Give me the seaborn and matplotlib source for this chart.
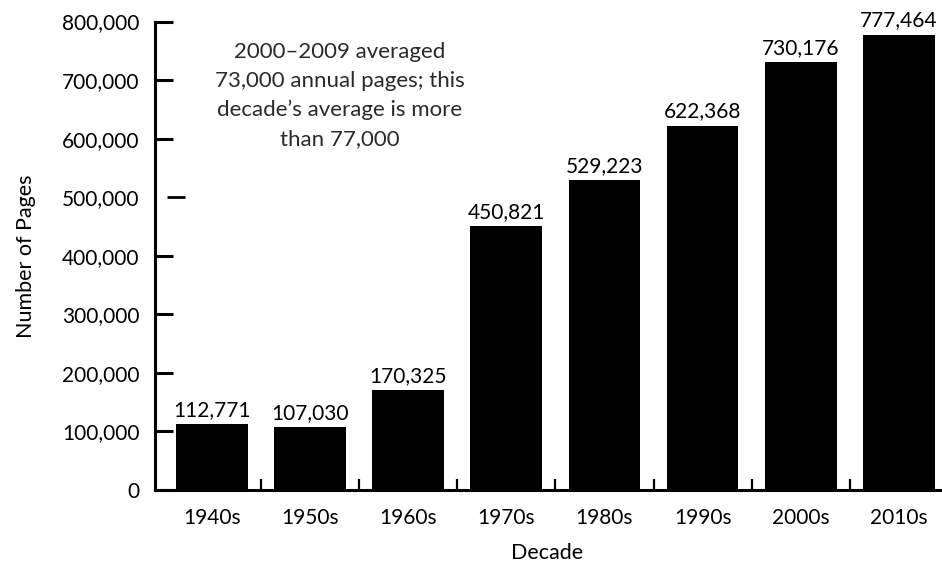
import matplotlib
matplotlib.use("Agg")
import matplotlib.pyplot as plt
import matplotlib.transforms as mtransforms
from matplotlib.ticker import FuncFormatter, FixedLocator
import seaborn as sns
import pandas as pd

decades = ["1940s", "1950s", "1960s", "1970s", "1980s", "1990s", "2000s", "2010s"]
pages = [112771, 107030, 170325, 450821, 529223, 622368, 730176, 777464]
y_ticks = [0, 100000, 200000, 300000, 400000, 500000, 600000, 700000, 800000]
note = "2000\u20132009 averaged\n73,000 annual pages; this\ndecade\u2019s average is more\nthan 77,000"

sns.set_theme(style="white")
plt.rcParams["font.family"] = ["Lato", "DejaVu Sans"]

df = pd.DataFrame({"Decade": decades, "Pages": pages})

fig = plt.figure(figsize=(9.42, 5.69), dpi=100)
ax = fig.add_axes([0.1645, 0.1388, 0.8335, 0.8234])

sns.barplot(data=df, x="Decade", y="Pages", color="black", width=0.73,
            saturation=1, edgecolor="none", ax=ax)

ax.set_xlim(-0.58, 7.42)
ax.set_ylim(0, 800000)

for side in ("top", "right"):
    ax.spines[side].set_visible(False)
for side in ("left", "bottom"):
    ax.spines[side].set_linewidth(2.2)
    ax.spines[side].set_color("black")

ax.yaxis.set_major_locator(FixedLocator(y_ticks))
ax.yaxis.set_major_formatter(FuncFormatter(lambda v, p: f"{int(v):,}"))
ax.tick_params(axis="y", direction="in", length=13, width=2.2, color="black",
               labelsize=15, pad=11, left=True)
ax.tick_params(axis="x", which="major", length=0, labelsize=15, pad=13)

# small separators between the categories
ax.xaxis.set_minor_locator(FixedLocator([i + 0.5 for i in range(len(decades) - 1)]))
ax.tick_params(axis="x", which="minor", direction="in", length=8, width=1.6,
               color="black", bottom=True)

# the 500,000 mark is drawn as a detached dash
for tick in ax.yaxis.get_major_ticks():
    if tick.get_loc() == 500000:
        tick.tick1line.set_visible(False)
trans = mtransforms.blended_transform_factory(ax.transAxes, ax.transData)
ax.plot([0.0153, 0.0382], [500000, 500000], color="black", lw=2.0,
        transform=trans, clip_on=False, solid_capstyle="butt")

for lbl in ax.get_yticklabels() + ax.get_xticklabels():
    lbl.set_color("black")

ax.set_xlabel("Decade", fontsize=15.5, color="black", labelpad=11)
ax.set_ylabel("Number of Pages", fontsize=15.5, color="black", labelpad=19)

labels = ax.bar_label(ax.containers[0], labels=[f"{v:,}" for v in pages],
                      padding=3, fontsize=15, color="black")
for t in labels:
    t.set_clip_on(False)

ax.text(1.3, 674000, note, ha="center", va="center", fontsize=16,
        fontweight="normal", color="#2a2a2a", linespacing=1.56)

fig.savefig("out.png", dpi=100)
